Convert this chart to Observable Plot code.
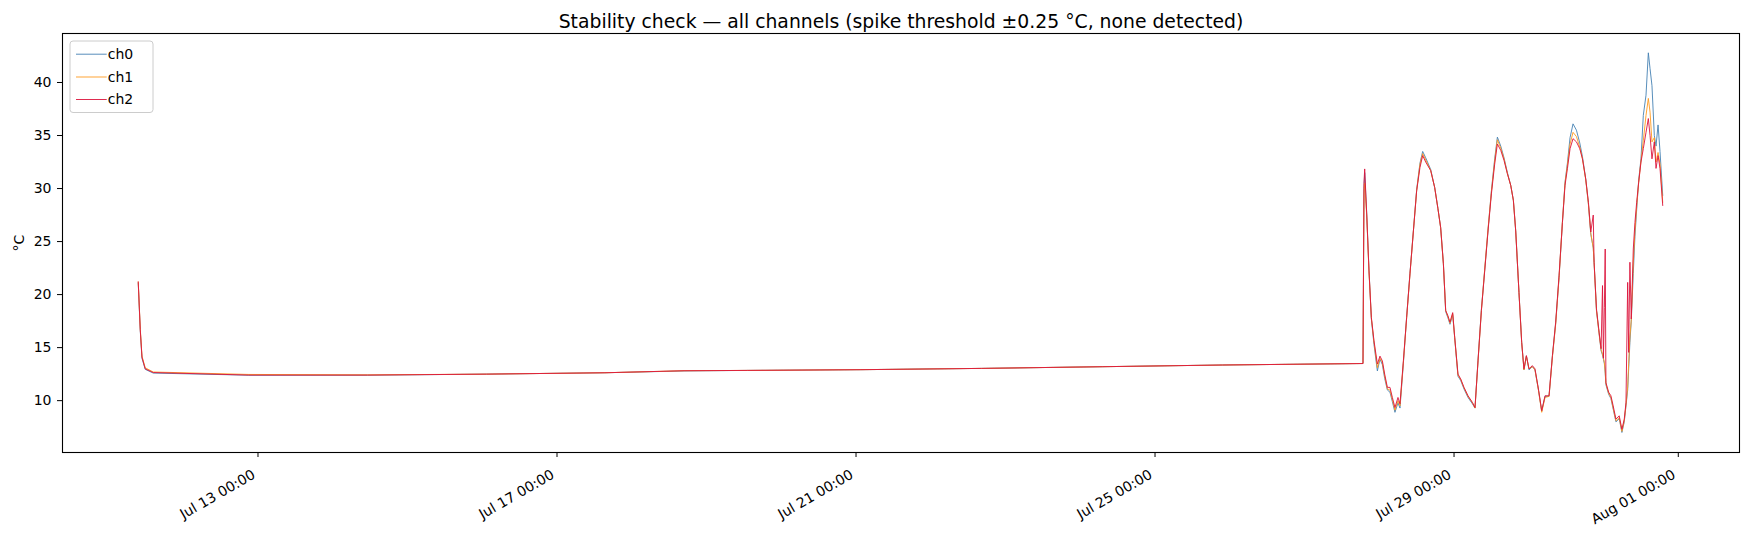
<!DOCTYPE html>
<html><head><meta charset="utf-8">
<script src="https://cdn.jsdelivr.net/npm/d3@7"></script>
<script src="https://cdn.jsdelivr.net/npm/@observablehq/plot@0.6"></script>
<style>body{margin:0;background:#fff;} #chart{position:relative;width:1748px;height:538px;}</style>
</head><body><div id="chart"></div><script>
const title = "Stability check — all channels (spike threshold ±0.25 °C, none detected)";
const yLabel = "°C";
const channels = ["ch0", "ch1", "ch2"];
const colors = ["#4682b4", "#ff9a1f", "#dc143c"];
const xTicks = ["2024-07-13T00:00","2024-07-17T00:00","2024-07-21T00:00","2024-07-25T00:00","2024-07-29T00:00","2024-08-01T00:00"];
const yTicks = [10, 15, 20, 25, 30, 35, 40];

const times = [
"2024-07-11T09:33","2024-07-11T10:12","2024-07-11T10:45","2024-07-11T11:48","2024-07-11T14:22",
"2024-07-12T21:04","2024-07-14T11:07","2024-07-16T01:19","2024-07-17T15:23","2024-07-18T16:47",
"2024-07-19T13:05","2024-07-21T01:35","2024-07-22T16:18","2024-07-24T07:02","2024-07-25T21:42",
"2024-07-27T18:46","2024-07-27T19:05","2024-07-27T19:19","2024-07-27T19:58","2024-07-27T20:41",
"2024-07-27T21:27","2024-07-27T22:18","2024-07-27T23:23","2024-07-28T00:13","2024-07-28T00:59",
"2024-07-28T01:44","2024-07-28T02:36","2024-07-28T03:26","2024-07-28T04:12","2024-07-28T05:02",
"2024-07-28T06:00","2024-07-28T06:39","2024-07-28T07:44","2024-07-28T08:47","2024-07-28T09:51",
"2024-07-28T10:57","2024-07-28T12:00","2024-07-28T13:04","2024-07-28T13:56","2024-07-28T14:54",
"2024-07-28T16:30","2024-07-28T17:47","2024-07-28T18:50","2024-07-28T19:42","2024-07-28T20:35",
"2024-07-28T21:19","2024-07-28T22:03","2024-07-28T22:42","2024-07-28T23:34","2024-07-29T00:13",
"2024-07-29T01:16","2024-07-29T02:08","2024-07-29T03:12","2024-07-29T04:29","2024-07-29T05:54",
"2024-07-29T06:44","2024-07-29T07:42","2024-07-29T08:47","2024-07-29T09:52","2024-07-29T10:55",
"2024-07-29T12:00","2024-07-29T13:03","2024-07-29T13:55","2024-07-29T15:00","2024-07-29T16:03",
"2024-07-29T17:08","2024-07-29T18:12","2024-07-29T19:03","2024-07-29T19:48","2024-07-29T20:51",
"2024-07-29T21:43","2024-07-29T22:27","2024-07-29T23:14","2024-07-30T00:04","2024-07-30T01:09",
"2024-07-30T01:59","2024-07-30T03:06","2024-07-30T04:09","2024-07-30T05:13","2024-07-30T06:30",
"2024-07-30T07:35","2024-07-30T08:38","2024-07-30T09:43","2024-07-30T10:48","2024-07-30T11:38",
"2024-07-30T12:24","2024-07-30T13:15","2024-07-30T14:12","2024-07-30T15:18","2024-07-30T16:22",
"2024-07-30T17:14","2024-07-30T18:17","2024-07-30T19:09","2024-07-30T19:54","2024-07-30T20:42",
"2024-07-30T20:58","2024-07-30T21:44","2024-07-30T22:35","2024-07-30T23:13","2024-07-30T23:40",
"2024-07-30T23:58","2024-07-31T00:16","2024-07-31T00:32","2024-07-31T00:46","2024-07-31T01:38",
"2024-07-31T02:22","2024-07-31T03:06","2024-07-31T03:59","2024-07-31T05:02","2024-07-31T05:54",
"2024-07-31T06:39","2024-07-31T07:12","2024-07-31T07:45","2024-07-31T08:04","2024-07-31T08:28",
"2024-07-31T08:54","2024-07-31T09:33","2024-07-31T10:05","2024-07-31T10:38","2024-07-31T11:17",
"2024-07-31T12:01","2024-07-31T12:46","2024-07-31T13:38","2024-07-31T14:23","2024-07-31T14:56",
"2024-07-31T15:33","2024-07-31T16:18","2024-07-31T16:51","2024-07-31T17:30","2024-07-31T18:08",
"2024-07-31T19:00"
];

const ch0 = [
21.1,16.6,14.0,12.95,12.6, 12.4,12.4,12.5,12.63,12.8, 12.85,12.92,13.04,13.2,13.36,
13.5,30.0,31.5,27.6,22.4, 17.7,15.3,12.8,13.9,13.4, 12.1,11.0,10.8,9.9,8.9,
9.8,9.3,13.5,17.9,22.0, 26.0,29.9,32.4,33.5,32.9, 31.8,30.1,28.1,26.3,22.9,
18.4,17.8,17.2,18.1,15.9, 12.3,11.9,11.1,10.3,9.7, 9.3,13.8,18.6,22.4,26.1,
29.8,32.8,34.85,34.0,32.9, 31.5,30.3,28.9,26.0,20.2, 15.5,12.9,14.2,12.9,13.2,
12.9,11.0,9.0,10.4,10.4, 14.2,17.3,21.6,26.8,30.6, 32.4,34.8,36.1,35.5,34.3,
33.0,30.9,28.5,25.7,24.4, 23.0,18.5,16.3,14.7,14.3, 13.9,13.5,12.6,11.5,10.6,
10.2,9.2,8.0,8.3,7.0, 8.0,9.5,11.0,13.0,15.5, 17.5,22.0,25.5,28.0,30.8,
32.8,36.9,38.8,42.8,41.3, 39.7,35.0,34.0,36.0,33.5, 29.35
];

const ch1 = [
21.2,16.8,14.2,13.1,12.7, 12.47,12.43,12.5,12.63,12.82, 12.85,12.92,13.04,13.2,13.36,
13.5,29.5,30.5,27.4,22.2, 17.8,15.5,13.1,14.0,13.6, 12.3,11.1,11.0,10.1,9.1,
10.0,9.5,13.6,17.8,21.9, 26.0,29.8,32.3,33.3,32.7, 31.7,30.1,28.1,26.3,22.9,
18.5,17.9,17.3,18.2,15.9, 12.4,12.0,11.2,10.4,9.8, 9.3,13.7,18.5,22.5,26.2,
29.7,32.6,34.6,33.8,32.8, 31.4,30.3,28.9,26.0,20.2, 15.5,12.9,14.2,13.0,13.2,
12.9,11.0,8.9,10.3,10.4, 14.1,17.2,21.6,26.9,30.5, 32.2,34.2,35.3,34.9,33.9,
32.8,30.8,28.5,25.8,24.4, 23.0,18.5,16.3,14.8,14.4, 14.0,13.6,12.7,11.6,10.7,
10.3,9.3,8.1,8.4,7.1, 8.1,9.6,11.3,13.5,16.0, 17.6,23.0,26.0,28.3,30.6,
32.6,34.5,36.9,38.5,37.2, 34.4,34.8,32.5,33.4,32.3, 28.7
];

const ch2 = [
21.2,16.7,14.1,13.0,12.65, 12.41,12.41,12.5,12.63,12.82, 12.85,12.92,13.04,13.2,13.36,
13.5,30.5,31.85,27.6,22.3, 17.85,15.65,13.45,14.2,13.75, 12.5,11.25,11.25,10.3,9.35,
10.3,9.7,13.75,17.85,21.95, 26.0,29.8,32.0,33.1,32.5, 31.7,30.1,28.1,26.35,22.9,
18.5,18.0,17.4,18.3,15.97, 12.5,12.05,11.25,10.46,9.83, 9.35,13.75,18.5,22.3,26.0,
29.5,32.3,34.2,33.6,32.65, 31.4,30.3,28.9,26.0,20.2, 15.5,13.0,14.25,13.0,13.3,
13.0,11.1,9.05,10.46,10.46, 14.25,17.4,21.8,26.8,30.3, 31.87,33.76,34.7,34.4,33.76,
32.8,30.9,28.7,25.9,27.5, 23.05,18.65,16.45,14.9,20.85, 14.0,18.8,24.3,11.7,10.8,
10.46,9.5,8.26,8.57,7.3, 8.26,9.8,21.15,14.55,23.05, 17.7,24.3,26.8,28.7,30.6,
32.5,33.76,35.3,36.6,35.0, 32.8,34.4,31.9,33.1,31.9, 28.4
];

const parse = s => new Date(s + ":00Z");
const series = [ch0, ch1, ch2];
const rows = channels.flatMap((c, i) => times.map((t, j) => ({t: parse(t), v: series[i][j], c})));
const tickDates = xTicks.map(parse);
const fmt = d3.utcFormat("%b %d %H:%M");

const plot = Plot.plot({
  width: 1748, height: 538,
  marginLeft: 62, marginRight: 9, marginTop: 33, marginBottom: 86,
  style: {fontFamily: "'DejaVu Sans', sans-serif", fontSize: "14px", background: "white", color: "black"},
  x: {type: "utc", domain: [parse("2024-07-10T09:14"), parse("2024-08-01T19:39")]},
  y: {domain: [5.11, 44.62]},
  color: {domain: channels, range: colors},
  marks: [
    Plot.lineY(rows, {x: "t", y: "v", z: "c", stroke: "c", strokeWidth: 1, strokeOpacity: 0.9}),
    Plot.frame({stroke: "black", strokeWidth: 1.1}),
    Plot.axisX({ticks: tickDates, tickSize: 5, fill: "none", label: null}),
    Plot.axisX({ticks: tickDates, tickFormat: fmt, tickRotate: -30, tickSize: 0, tickPadding: 21,
      dx: -4, label: null, fontSize: 14}),
    Plot.axisY({ticks: yTicks, tickSize: 5, tickPadding: 6, label: yLabel, labelAnchor: "center",
      labelArrow: "none", labelOffset: 48, fontSize: 14}),
    Plot.text([title], {frameAnchor: "top", dy: -19, fontSize: 18.8, text: d => d, fill: "black"})
  ]
});
document.getElementById("chart").appendChild(plot);

// legend (upper-left, inside the axes)
const svg = d3.select(plot);
const lg = svg.append("g").attr("font-family", "'DejaVu Sans', sans-serif").attr("font-size", 14);
lg.append("rect").attr("x", 70).attr("y", 41).attr("width", 83).attr("height", 71.5)
  .attr("rx", 3).attr("fill", "white").attr("fill-opacity", 0.8).attr("stroke", "#cccccc").attr("stroke-width", 1);
const rowY = [54.2, 77.0, 99.5];
channels.forEach((c, i) => {
  lg.append("line").attr("x1", 76).attr("x2", 106.7).attr("y1", rowY[i]).attr("y2", rowY[i])
    .attr("stroke", colors[i]).attr("stroke-width", 1).attr("stroke-opacity", 0.9);
  lg.append("text").attr("x", 120.5).attr("y", rowY[i]).attr("dy", "0.35em").attr("fill", "black").text(c);
});
</script></body></html>
